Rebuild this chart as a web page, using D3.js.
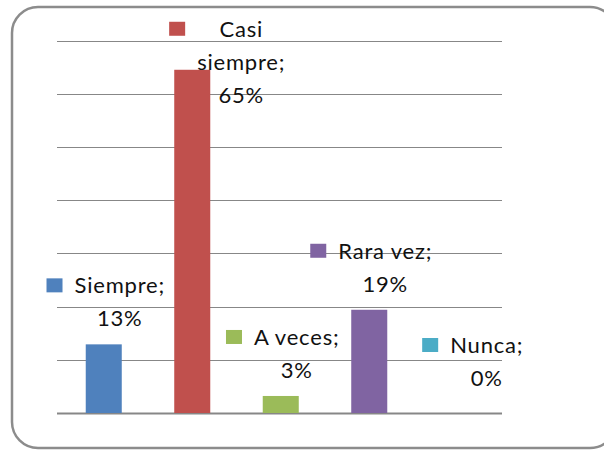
<!DOCTYPE html>
<html>
<head>
<meta charset="utf-8">
<script src="https://cdn.jsdelivr.net/npm/d3@7"></script>
<style>
  body { margin: 0; background: #fff; }
  svg { display: block; }
  .lbl { font-family: Lato, "Open Sans", sans-serif; font-size: 22px; fill: #111; letter-spacing: 0.8px; }
</style>
</head>
<body>
<svg width="604" height="450"></svg>
<script>
// chart data
var categories = ["Siempre", "Casi siempre", "A veces", "Rara vez", "Nunca"];
var values = [12.9, 64.5, 3.2, 19.4, 0];
var pctLabels = ["13%", "65%", "3%", "19%", "0%"];
var colors = ["#4F81BD", "#C0504D", "#9BBB59", "#8064A2", "#4BACC6"];
var gridTicks = [0, 10, 20, 30, 40, 50, 60, 70];

var svg = d3.select("svg");

// outer frame
svg.append("rect")
  .attr("x", 12).attr("y", 7)
  .attr("width", 604).attr("height", 441)
  .attr("rx", 26).attr("ry", 26)
  .attr("fill", "none")
  .attr("stroke", "#8c8c8c")
  .attr("stroke-width", 2.5);

var x = d3.scaleBand()
  .domain(categories)
  .range([59.5, 502])
  .paddingInner(0.593)
  .paddingOuter(0.2965);

var y = d3.scaleLinear().domain([0, 70]).range([413, 40.5]);

// gridlines
svg.append("g").selectAll("line")
  .data(gridTicks)
  .enter().append("line")
  .attr("x1", 57).attr("x2", 502)
  .attr("y1", d => Math.round(y(d)) + 0.5)
  .attr("y2", d => Math.round(y(d)) + 0.5)
  .attr("stroke", "#878787")
  .attr("stroke-width", d => d === 0 ? 2 : 1);

// bars
svg.append("g").selectAll("rect")
  .data(values)
  .enter().append("rect")
  .attr("x", (d, i) => x(categories[i]))
  .attr("width", x.bandwidth())
  .attr("y", d => y(d))
  .attr("height", d => y(0) - y(d))
  .attr("fill", (d, i) => colors[i]);

// labels with legend key (a couple of them were moved by hand in the original)
var nudge = { "Casi siempre": { dx: 33, dy: 51 }, "Nunca": { dx: 13, dy: -9 } };
var lineH = 33;

categories.forEach(function(c, i) {
  var words = (c + ";").split(" ");
  var lines = (c.length > 10 ? words : [words.join(" ")]).concat([pctLabels[i]]);
  var n = nudge[c] || { dx: 0, dy: 0 };
  var lastBase = y(values[i]) - 18 + n.dy;
  var firstBase = lastBase - lineH * (lines.length - 1);

  var g = svg.append("g");
  var texts = g.selectAll("text")
    .data(lines)
    .enter().append("text")
    .attr("class", "lbl")
    .attr("text-anchor", "middle")
    .attr("y", (d, j) => firstBase + j * lineH)
    .text(d => d);

  var w = d3.max(texts.nodes(), t => t.getComputedTextLength());
  var blockW = 16 + 12 + w;
  var cx = x(c) + x.bandwidth() / 2 + 2 + n.dx;
  var textCx = cx - blockW / 2 + 28 + w / 2;
  texts.attr("x", textCx);
  g.append("rect")
    .attr("x", textCx - w / 2 - 12 - 16)
    .attr("y", firstBase - 15)
    .attr("width", 16).attr("height", 14)
    .attr("fill", colors[i]);
});
</script>
</body>
</html>
